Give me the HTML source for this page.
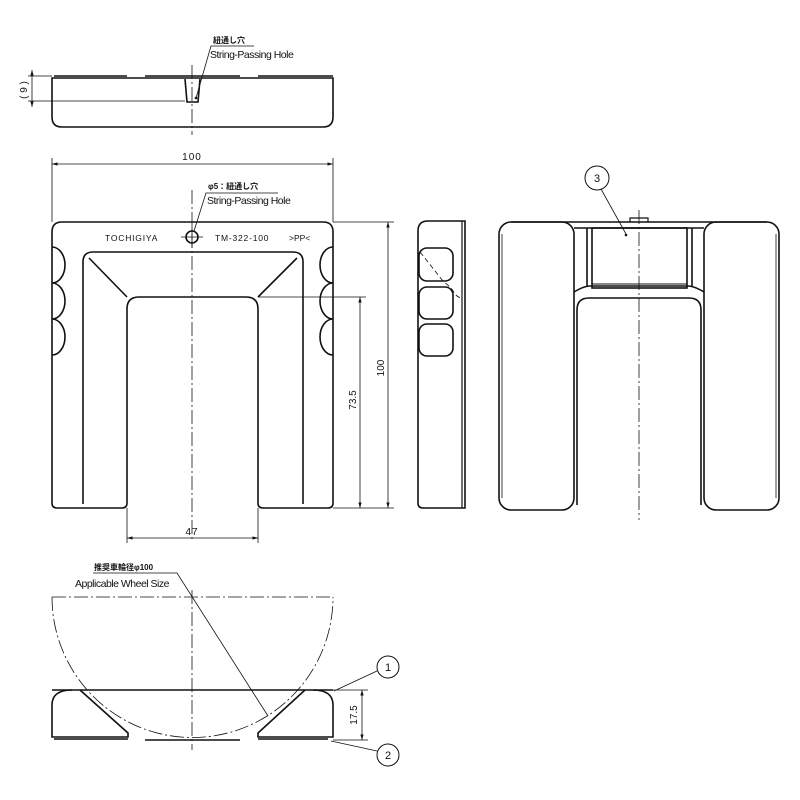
<!DOCTYPE html>
<html><head><meta charset="utf-8"><style>
html,body{margin:0;padding:0;background:#fff;}
svg{display:block;}
text{font-family:"Liberation Sans","Noto Sans CJK JP",sans-serif;fill:#111;}
</style></head><body>
<svg width="800" height="800" viewBox="0 0 800 800" xmlns="http://www.w3.org/2000/svg">
<defs>
<marker id="a" viewBox="0 0 10 10" refX="10" refY="5" markerWidth="7" markerHeight="7" orient="auto-start-reverse"><path d="M0,2 L10,5 L0,8 z" fill="#111"/></marker>
</defs>
<g fill="none" stroke="#111" stroke-width="1.6">
<path d="M52,78 H333 V117 Q333,127 323,127 H62 Q52,127 52,117 Z"/>
<path d="M54,76 H127 M145,76 H240 M258,76 H333" stroke-width="1.4"/>
<path d="M185,79 L187,102 H198 L200,79"/>
</g>
<g stroke="#111" stroke-width="0.8" fill="none">
<path d="M192,65 V135" stroke-dasharray="14,3,2,3"/>
<path d="M28,76 H52 M28,101 H185"/>
<path d="M32,70 V107" marker-start="url(#a)" marker-end="url(#a)"/>
<path d="M196,98 L211,46 H254"/>
</g>
<circle cx="196" cy="98" r="1.3" fill="#111"/>
<text x="27" y="90" font-size="10" text-anchor="middle" transform="rotate(-90 27 90)">( 9 )</text>
<text x="213" y="43" font-size="8" font-weight="bold">紐通し穴</text>
<text x="210" y="58" font-size="10.5" letter-spacing="-0.5">String-Passing Hole</text>

<g fill="none" stroke="#111" stroke-width="1.6">
<path d="M62,222 H323 Q333,222 333,232 V503 Q333,508 328,508 H263 Q258,508 258,503 V309 Q258,297 246,297 H139 Q127,297 127,309 V503 Q127,508 122,508 H57 Q52,508 52,503 V232 Q52,222 62,222 Z"/>
<path d="M52,247 A13,18 0 0 1 52,283 A13,18 0 0 1 52,319 A13,18 0 0 1 52,355"/>
<path d="M333,247 A13,18 0 0 0 333,283 A13,18 0 0 0 333,319 A13,18 0 0 0 333,355"/>
<path d="M83,504 V262 Q83,252 93,252 H293 Q303,252 303,262 V504"/>
<path d="M89,258 L127,297 M297,258 L258,297"/>
<circle cx="192" cy="237" r="6"/>
</g>
<g stroke="#111" stroke-width="0.8" fill="none">
<path d="M181,237 H203 M192,226 V248"/>
<path d="M192,190 V540" stroke-dasharray="14,3,2,3"/>
<path d="M52,158 V222 M333,158 V222"/>
<path d="M52,164 H333" marker-start="url(#a)" marker-end="url(#a)"/>
<path d="M194,231 L206,193 H278"/>
<path d="M258,297 H366 M333,222 H394 M333,508 H394"/>
<path d="M360,297 V508" marker-start="url(#a)" marker-end="url(#a)"/>
<path d="M388,222 V508" marker-start="url(#a)" marker-end="url(#a)"/>
<path d="M127,508 V543 M258,508 V543"/>
<path d="M127,538 H258" marker-start="url(#a)" marker-end="url(#a)"/>
</g>
<text x="192" y="160" font-size="10" text-anchor="middle" letter-spacing="1">100</text>
<text x="208" y="189" font-size="8" font-weight="bold">φ5：紐通し穴</text>
<text x="207" y="204" font-size="10.5" letter-spacing="-0.5">String-Passing Hole</text>
<text x="105" y="241" font-size="8.5" letter-spacing="0.8">TOCHIGIYA</text>
<text x="215" y="241" font-size="8.5" letter-spacing="0.8">TM-322-100</text>
<text x="289" y="241" font-size="8.5">&gt;PP&lt;</text>
<text x="356" y="400" font-size="10" text-anchor="middle" transform="rotate(-90 356 400)">73.5</text>
<text x="384" y="368" font-size="10" text-anchor="middle" transform="rotate(-90 384 368)">100</text>
<text x="192" y="535" font-size="10" text-anchor="middle" letter-spacing="1">47</text>

<g fill="none" stroke="#111" stroke-width="1.6">
<path d="M465,221 V508 H423 Q418,508 418,503 V231 Q418,221 428,221 Z"/>
<path d="M462,221 V508" stroke-width="1.2"/>
<rect x="419" y="248" width="34" height="33" rx="8"/>
<rect x="419" y="287" width="34" height="32" rx="8"/>
<rect x="419" y="324" width="34" height="32" rx="8"/>
</g>
<path d="M420,252 L443,281 Q452,288 455,294 Q458,298 463,298" fill="none" stroke="#111" stroke-width="0.8" stroke-dasharray="5,3"/>

<g fill="none" stroke="#111" stroke-width="1.6">
<rect x="499" y="222" width="75" height="288" rx="12"/>
<rect x="704" y="222" width="75" height="288" rx="12"/>
<path d="M502,498 V234 M776,498 V234" stroke-width="0.8"/>
<path d="M511,222 H767"/>
<path d="M574,228 H704 M574,292 Q584,286 590,286 H688 Q694,286 704,292"/>
<path d="M577,505 V310 Q577,298 589,298 H689 Q701,298 701,310 V505"/>
<path d="M587,228 V286 M692,228 V286"/>
<rect x="592" y="228" width="95" height="60"/>
<path d="M592,284 H687" stroke-width="1"/>
<path d="M630,222 V218 H648 V222" stroke-width="1.2"/>
<circle cx="597" cy="178" r="12" stroke-width="1"/>
</g>
<path d="M639,210 V520" stroke="#111" stroke-width="0.8" stroke-dasharray="14,3,2,3"/>
<path d="M601,189 L626,234" stroke="#111" stroke-width="0.8"/>
<circle cx="626" cy="235" r="1.3" fill="#111"/>
<text x="597" y="182" font-size="11" text-anchor="middle">3</text>

<g fill="none" stroke="#111" stroke-width="0.8" stroke-dasharray="14,3,2,3">
<path d="M52,597 A140.5,140.5 0 0 0 333,597"/>
<path d="M52,597 H333"/>
<path d="M192,590 V750"/>
</g>
<g fill="none" stroke="#111" stroke-width="1.6">
<path d="M52,690 H333"/>
<path d="M72,690 Q52,690 52,705 V737 H128 V733 L80,690"/>
<path d="M313,690 Q333,690 333,705 V737 H258 V733 L305,690"/>
<path d="M54,739 H128 M145,740 H240 M258,739 H328" stroke-width="1.4"/>
<circle cx="388" cy="667" r="11" stroke-width="1"/>
<circle cx="388" cy="755" r="11" stroke-width="1"/>
</g>
<g stroke="#111" stroke-width="0.8" fill="none">
<path d="M333,690 H368 M333,740 H368"/>
<path d="M362,690 V740" marker-start="url(#a)" marker-end="url(#a)"/>
<path d="M93,573 H177 L268,716"/>
<path d="M377,671 L334,691"/>
<path d="M377,751 L331,741"/>
</g>
<text x="94" y="570" font-size="8" font-weight="bold">推奨車輪径φ100</text>
<text x="75" y="587" font-size="10.5" letter-spacing="-0.5">Applicable Wheel Size</text>
<text x="357" y="715" font-size="10" text-anchor="middle" transform="rotate(-90 357 715)">17.5</text>
<text x="388" y="671" font-size="11" text-anchor="middle">1</text>
<text x="388" y="759" font-size="11" text-anchor="middle">2</text>
</svg>
</body></html>
